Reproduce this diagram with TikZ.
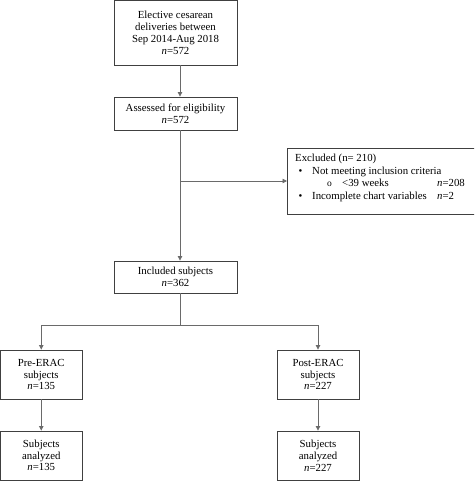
\documentclass[tikz,border=0pt]{standalone}
\usepackage{fontspec}
\setmainfont{Liberation Serif}
\usetikzlibrary{arrows.meta}
\definecolor{boxc}{HTML}{404040}
\definecolor{linec}{HTML}{6A6A6A}
\begin{document}
\begin{tikzpicture}[x=1pt,y=-1pt,
  box/.style={draw=boxc, line width=0.9pt, align=center, inner sep=0pt, font=\fontsize{10.8}{11.8}\selectfont},
  txt/.style={inner sep=0pt, anchor=base west, font=\fontsize{10.8}{11.8}\selectfont},
  conn/.style={draw=linec, line width=0.8pt},
  arr/.style={conn, -{Triangle[length=4.5pt,width=4.5pt]}}]
\useasboundingbox (0,0) rectangle (474,481);
\clip (0,0) rectangle (474,481);
\node[box, minimum width=123pt, minimum height=64.5pt] (top) at (175.5,32.75) {Elective cesarean\\deliveries between\\Sep 2014-Aug 2018\\\textit{n}=572};
\node[box, minimum width=123pt, minimum height=33pt] (assess) at (175.5,113.5) {Assessed for eligibility\\\textit{n}=572};
\node[box, minimum width=123pt, minimum height=32pt] (incl) at (175.5,277) {Included subjects\\\textit{n}=362};
\node[box, minimum width=81.5pt, minimum height=49pt] (pre) at (41.25,374.5) {Pre-ERAC\\subjects\\\textit{n}=135};
\node[box, minimum width=81.5pt, minimum height=49pt] (prea) at (41.25,455.5) {Subjects\\analyzed\\\textit{n}=135};
\node[box, minimum width=82pt, minimum height=49pt] (post) at (318,374.5) {Post-ERAC\\subjects\\\textit{n}=227};
\node[box, minimum width=82pt, minimum height=49pt] (posta) at (318,455.5) {Subjects\\analyzed\\\textit{n}=227};
\node[box, anchor=north west, minimum width=195pt, minimum height=66pt] (excl) at (287,148) {};
\node[txt] (ex1) at (295,161) {Excluded (n= 210)};
\node[txt] (exb1) at (298.5,174) {•};
\node[txt] (ex2) at (312,174) {Not meeting inclusion criteria};
\node[txt, font=\fontsize{9.5}{10}\selectfont] (exo) at (327,186.5) {o};
\node[txt] (ex3) at (342,186.5) {<39 weeks};
\node[txt] (ex3n) at (437,186.5) {\textit{n}=208};
\node[txt] (exb2) at (298.5,199) {•};
\node[txt] (ex4) at (312,199) {Incomplete chart variables};
\node[txt] (ex4n) at (437,199) {\textit{n}=2};
\coordinate (sp) at (180,0);
\coordinate (br) at (180,181);
\coordinate (split) at (180,325);
\draw[arr] (top.south -| sp) -- (assess.north -| sp);
\draw[arr] (assess.south -| sp) -- (incl.north -| sp);
\draw[arr] (br) -- (br -| excl.west);
\draw[conn] (incl.south -| sp) -- (split);
\draw[arr] (split) -| (pre.north);
\draw[arr] (split) -| (post.north);
\draw[arr] (pre) -- (prea);
\draw[arr] (post) -- (posta);
\end{tikzpicture}
\end{document}
